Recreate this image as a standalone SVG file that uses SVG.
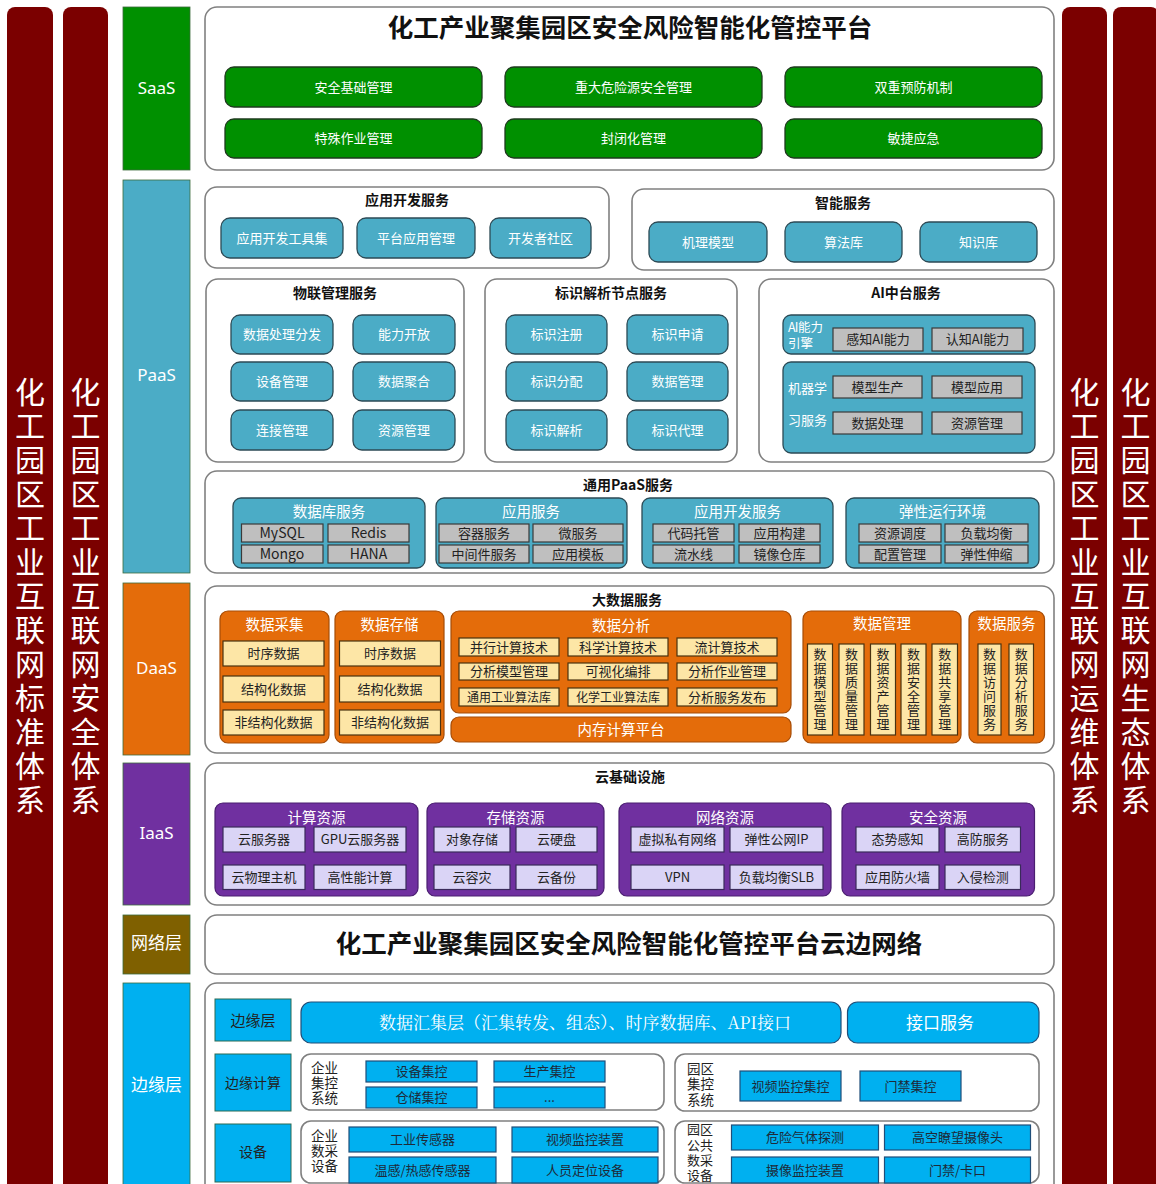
<svg xmlns="http://www.w3.org/2000/svg" width="1156" height="1184" viewBox="0 0 1156 1184">
<style>
text{font-family:"Noto Sans CJK SC","Noto Sans",sans-serif;text-anchor:middle;dominant-baseline:central;transform:translateY(-1px)}
.l{text-anchor:start}
.bar{fill:#7B0000}
.bt{font-size:30px;fill:#fff}
.lay{stroke:#3d6b3d;stroke-width:0.8}
.lt{font-family:"Noto Sans","Noto Sans CJK SC",sans-serif;font-size:17px;fill:#fff}
.panel{fill:#fff;stroke:#808080;stroke-width:1.6}
.big{font-size:25.5px;font-weight:700;fill:#111;transform:translateY(-2.5px)}
.st{font-size:14px;font-weight:700;fill:#111}
.gb{fill:#009000;stroke:#1e3a1e;stroke-width:1.3}
.tb{fill:#4BACC6;stroke:#2c4a55;stroke-width:1.3}
.gr{fill:#BFBFBF;stroke:#3a3a3a;stroke-width:1.2}
.ob{fill:#E46C0A;stroke:#a64c06;stroke-width:1.2}
.yc{fill:#FDE6A6;stroke:#4a3210;stroke-width:1.2}
.pb{fill:#7030A0;stroke:#4a1e70;stroke-width:1.2}
.pc{fill:#DAD4F6;stroke:#3a2a5a;stroke-width:1.2}
.bb{fill:#00B0F0;stroke:#1f4e79;stroke-width:1.2}
.bl{fill:#00B0F0;stroke:#2a6a55;stroke-width:1}
.w13{font-size:13px;fill:#fff}
.w14{font-size:14.5px;fill:#fff}
.d13{font-size:13px;fill:#222}
.d14{font-size:14px;fill:#222}
.e13{font-size:13px;fill:#1e2a38}
</style>

<g id="side-bars">
  <g id="bar-standard">
    <rect class="bar" x="7" y="7" width="46" height="1195" rx="8"/>
    <text class="bt" x="30 30 30 30 30 30 30 30 30 30 30 30 30" y="391 425 459 493 527 561 595 629 663 697 731 765 799">化工园区工业互联网标准体系</text>
  </g>
  <g id="bar-security">
    <rect class="bar" x="63" y="7" width="45" height="1195" rx="8"/>
    <text class="bt" x="85.5 85.5 85.5 85.5 85.5 85.5 85.5 85.5 85.5 85.5 85.5 85.5 85.5" y="391 425 459 493 527 561 595 629 663 697 731 765 799">化工园区工业互联网安全体系</text>
  </g>
  <g id="bar-ops">
    <rect class="bar" x="1062" y="7" width="45" height="1195" rx="8"/>
    <text class="bt" x="1084.5 1084.5 1084.5 1084.5 1084.5 1084.5 1084.5 1084.5 1084.5 1084.5 1084.5 1084.5 1084.5" y="391 425 459 493 527 561 595 629 663 697 731 765 799">化工园区工业互联网运维体系</text>
  </g>
  <g id="bar-eco">
    <rect class="bar" x="1113" y="7" width="46" height="1195" rx="8"/>
    <text class="bt" x="1135.5 1135.5 1135.5 1135.5 1135.5 1135.5 1135.5 1135.5 1135.5 1135.5 1135.5 1135.5 1135.5" y="391 425 459 493 527 561 595 629 663 697 731 765 799">化工园区工业互联网生态体系</text>
  </g>
</g>

<g id="layer-labels">
  <g id="layer-saas"><rect class="lay" x="123" y="7" width="67" height="163" fill="#009000"/><text class="lt" x="156.5" y="88">SaaS</text></g>
  <g id="layer-paas"><rect class="lay" x="123" y="180" width="67" height="393" fill="#4BACC6"/><text class="lt" x="156.5" y="375">PaaS</text></g>
  <g id="layer-daas"><rect class="lay" x="123" y="583" width="67" height="172" fill="#E46C0A"/><text class="lt" x="156.5" y="668">DaaS</text></g>
  <g id="layer-iaas"><rect class="lay" x="123" y="763" width="67" height="142" fill="#7030A0"/><text class="lt" x="156.5" y="833">IaaS</text></g>
  <g id="layer-net"><rect class="lay" x="123" y="915" width="67" height="59" fill="#7F6000"/><text class="lt" x="156.5" y="943" fill="#f3ead6">网络层</text></g>
  <g id="layer-edge"><rect class="lay" x="123" y="983" width="67" height="215" fill="#00B0F0"/><text class="lt" x="156.5" y="1085">边缘层</text></g>
</g>

<g id="saas">
  <rect class="panel" x="205" y="7" width="849" height="163" rx="12"/>
  <text class="big" x="630" y="28">化工产业聚集园区安全风险智能化管控平台</text>
  <g id="saas-1"><rect class="gb" x="225" y="67" width="257" height="40" rx="9"/><text class="w13" x="353.5" y="87">安全基础管理</text></g>
  <g id="saas-2"><rect class="gb" x="505" y="67" width="257" height="40" rx="9"/><text class="w13" x="633.5" y="87">重大危险源安全管理</text></g>
  <g id="saas-3"><rect class="gb" x="785" y="67" width="257" height="40" rx="9"/><text class="w13" x="913.5" y="87">双重预防机制</text></g>
  <g id="saas-4"><rect class="gb" x="225" y="119" width="257" height="39" rx="9"/><text class="w13" x="353.5" y="138.5">特殊作业管理</text></g>
  <g id="saas-5"><rect class="gb" x="505" y="119" width="257" height="39" rx="9"/><text class="w13" x="633.5" y="138.5">封闭化管理</text></g>
  <g id="saas-6"><rect class="gb" x="785" y="119" width="257" height="39" rx="9"/><text class="w13" x="913.5" y="138.5">敏捷应急</text></g>
</g>

<g id="paas-appdev">
  <rect class="panel" x="205" y="187" width="404" height="81" rx="12"/>
  <text class="st" x="407" y="200">应用开发服务</text>
  <rect class="tb" x="221" y="218" width="122" height="40" rx="9"/><text class="w13" x="282" y="238">应用开发工具集</text>
  <rect class="tb" x="357" y="218" width="118" height="40" rx="9"/><text class="w13" x="416" y="238">平台应用管理</text>
  <rect class="tb" x="490" y="218" width="101" height="40" rx="9"/><text class="w13" x="540.5" y="238">开发者社区</text>
</g>

<g id="paas-intel">
  <rect class="panel" x="632" y="189" width="422" height="81" rx="12"/>
  <text class="st" x="843" y="203">智能服务</text>
  <rect class="tb" x="649" y="222" width="118" height="40" rx="9"/><text class="w13" x="708" y="242">机理模型</text>
  <rect class="tb" x="785" y="222" width="117" height="40" rx="9"/><text class="w13" x="843.5" y="242">算法库</text>
  <rect class="tb" x="920" y="222" width="117" height="40" rx="9"/><text class="w13" x="978.5" y="242">知识库</text>
</g>

<g id="paas-iot">
  <rect class="panel" x="206" y="279" width="258" height="183" rx="12"/>
  <text class="st" x="335" y="293">物联管理服务</text>
  <rect class="tb" x="231" y="315" width="102" height="39" rx="9"/><text class="w13" x="282" y="334.5">数据处理分发</text>
  <rect class="tb" x="353" y="315" width="102" height="39" rx="9"/><text class="w13" x="404" y="334.5">能力开放</text>
  <rect class="tb" x="231" y="362" width="102" height="39" rx="9"/><text class="w13" x="282" y="381.5">设备管理</text>
  <rect class="tb" x="353" y="362" width="102" height="39" rx="9"/><text class="w13" x="404" y="381.5">数据聚合</text>
  <rect class="tb" x="231" y="410" width="102" height="40" rx="9"/><text class="w13" x="282" y="430">连接管理</text>
  <rect class="tb" x="353" y="410" width="102" height="40" rx="9"/><text class="w13" x="404" y="430">资源管理</text>
</g>

<g id="paas-id">
  <rect class="panel" x="485" y="279" width="252" height="183" rx="12"/>
  <text class="st" x="611" y="293">标识解析节点服务</text>
  <rect class="tb" x="506" y="315" width="101" height="39" rx="9"/><text class="w13" x="556.5" y="334.5">标识注册</text>
  <rect class="tb" x="627" y="315" width="101" height="39" rx="9"/><text class="w13" x="677.5" y="334.5">标识申请</text>
  <rect class="tb" x="506" y="362" width="101" height="39" rx="9"/><text class="w13" x="556.5" y="381.5">标识分配</text>
  <rect class="tb" x="627" y="362" width="101" height="39" rx="9"/><text class="w13" x="677.5" y="381.5">数据管理</text>
  <rect class="tb" x="506" y="410" width="101" height="40" rx="9"/><text class="w13" x="556.5" y="430">标识解析</text>
  <rect class="tb" x="627" y="410" width="101" height="40" rx="9"/><text class="w13" x="677.5" y="430">标识代理</text>
</g>

<g id="paas-ai">
  <rect class="panel" x="759" y="279" width="295" height="183" rx="12"/>
  <text class="st" x="906" y="293">AI中台服务</text>
  <rect class="tb" x="783" y="315" width="252" height="39" rx="8"/>
  <text class="w13 l" style="font-size:12.5px" x="788 794.8 798 810.5 788 800.5" y="327 327 327 327 343 343">AI能力引擎</text>
  <rect class="gr" x="833" y="328" width="90" height="23"/><text class="d13" x="878" y="339.5">感知AI能力</text>
  <rect class="gr" x="932" y="328" width="91" height="23"/><text class="d13" x="977.5" y="339.5">认知AI能力</text>
  <rect class="tb" x="783" y="362" width="252" height="91" rx="8"/>
  <text class="w13 l" x="788 801 814 788 801 814" y="388 388 388 420 420 420">机器学习服务</text>
  <rect class="gr" x="833" y="376" width="89" height="22"/><text class="d13" x="877.5" y="387">模型生产</text>
  <rect class="gr" x="932" y="376" width="90" height="22"/><text class="d13" x="977" y="387">模型应用</text>
  <rect class="gr" x="833" y="412" width="89" height="22"/><text class="d13" x="877.5" y="423">数据处理</text>
  <rect class="gr" x="932" y="412" width="90" height="22"/><text class="d13" x="977" y="423">资源管理</text>
</g>

<g id="paas-common">
  <rect class="panel" x="205" y="471" width="849" height="102" rx="12"/>
  <text class="st" x="628" y="485">通用PaaS服务</text>
  <g id="pc-db">
    <rect class="tb" x="233" y="498" width="192" height="70" rx="8"/>
    <text class="w14" x="329" y="511">数据库服务</text>
    <rect class="gr" x="241.5" y="524" width="81.5" height="18"/><text class="d14" x="282" y="533">MySQL</text>
    <rect class="gr" x="328" y="524" width="81" height="18"/><text class="d14" x="368.5" y="533">Redis</text>
    <rect class="gr" x="241.5" y="545" width="81.5" height="18"/><text class="d14" x="282" y="554">Mongo</text>
    <rect class="gr" x="328" y="545" width="81" height="18"/><text class="d14" x="368.5" y="554">HANA</text>
  </g>
  <g id="pc-app">
    <rect class="tb" x="436" y="498" width="191" height="70" rx="8"/>
    <text class="w14" x="531" y="511">应用服务</text>
    <rect class="gr" x="439" y="524" width="90" height="18"/><text class="d13" x="484" y="533">容器服务</text>
    <rect class="gr" x="533" y="524" width="90" height="18"/><text class="d13" x="578" y="533">微服务</text>
    <rect class="gr" x="439" y="545" width="90" height="18"/><text class="d13" x="484" y="554">中间件服务</text>
    <rect class="gr" x="533" y="545" width="90" height="18"/><text class="d13" x="578" y="554">应用模板</text>
  </g>
  <g id="pc-dev">
    <rect class="tb" x="642" y="498" width="191" height="70" rx="8"/>
    <text class="w14" x="737.5" y="511">应用开发服务</text>
    <rect class="gr" x="653" y="524" width="81" height="18"/><text class="d13" x="693.5" y="533">代码托管</text>
    <rect class="gr" x="739" y="524" width="81" height="18"/><text class="d13" x="779.5" y="533">应用构建</text>
    <rect class="gr" x="653" y="545" width="81" height="18"/><text class="d13" x="693.5" y="554">流水线</text>
    <rect class="gr" x="739" y="545" width="81" height="18"/><text class="d13" x="779.5" y="554">镜像仓库</text>
  </g>
  <g id="pc-elastic">
    <rect class="tb" x="846" y="498" width="193" height="70" rx="8"/>
    <text class="w14" x="942.5" y="511">弹性运行环境</text>
    <rect class="gr" x="859" y="524" width="82" height="18"/><text class="d13" x="900" y="533">资源调度</text>
    <rect class="gr" x="945" y="524" width="83" height="18"/><text class="d13" x="986.5" y="533">负载均衡</text>
    <rect class="gr" x="859" y="545" width="82" height="18"/><text class="d13" x="900" y="554">配置管理</text>
    <rect class="gr" x="945" y="545" width="83" height="18"/><text class="d13" x="986.5" y="554">弹性伸缩</text>
  </g>
</g>

<g id="daas">
  <rect class="panel" x="205" y="586" width="849" height="167" rx="12"/>
  <text class="st" x="627" y="600">大数据服务</text>
  <g id="da-collect">
    <rect class="ob" x="220" y="611" width="109" height="132" rx="8"/>
    <text class="w14" x="274.5" y="624">数据采集</text>
    <rect class="yc" x="223" y="641" width="101" height="25"/><text class="d13" x="273.5" y="653.5">时序数据</text>
    <rect class="yc" x="223" y="676" width="101" height="26"/><text class="d13" x="273.5" y="689">结构化数据</text>
    <rect class="yc" x="223" y="710" width="101" height="25"/><text class="d13" x="273.5" y="722.5">非结构化数据</text>
  </g>
  <g id="da-store">
    <rect class="ob" x="335" y="611" width="109" height="132" rx="8"/>
    <text class="w14" x="389.5" y="624">数据存储</text>
    <rect class="yc" x="339.5" y="641" width="101" height="25"/><text class="d13" x="390" y="653.5">时序数据</text>
    <rect class="yc" x="339.5" y="676" width="101" height="26"/><text class="d13" x="390" y="689">结构化数据</text>
    <rect class="yc" x="339.5" y="710" width="101" height="25"/><text class="d13" x="390" y="722.5">非结构化数据</text>
  </g>
  <g id="da-analysis">
    <rect class="ob" x="451" y="611" width="340" height="102" rx="8"/>
    <text class="w14" x="621" y="625">数据分析</text>
    <rect class="yc" x="459" y="638" width="100" height="18"/><text class="d13" x="509" y="647">并行计算技术</text>
    <rect class="yc" x="568" y="638" width="100" height="18"/><text class="d13" x="618" y="647">科学计算技术</text>
    <rect class="yc" x="677" y="638" width="100" height="18"/><text class="d13" x="727" y="647">流计算技术</text>
    <rect class="yc" x="459" y="663" width="100" height="17"/><text class="d13" x="509" y="671.5">分析模型管理</text>
    <rect class="yc" x="568" y="663" width="100" height="17"/><text class="d13" x="618" y="671.5">可视化编排</text>
    <rect class="yc" x="677" y="663" width="100" height="17"/><text class="d13" x="727" y="671.5">分析作业管理</text>
    <rect class="yc" x="459" y="688" width="100" height="18"/><text class="d13" x="509" y="697" style="font-size:12px">通用工业算法库</text>
    <rect class="yc" x="568" y="688" width="100" height="18"/><text class="d13" x="618" y="697" style="font-size:12px">化学工业算法库</text>
    <rect class="yc" x="677" y="688" width="100" height="18"/><text class="d13" x="727" y="697">分析服务发布</text>
  </g>
  <g id="da-memory">
    <rect class="ob" x="451" y="717" width="340" height="25" rx="8"/>
    <text class="w14" x="621" y="729.5">内存计算平台</text>
  </g>
  <g id="da-manage">
    <rect class="ob" x="803" y="611" width="158" height="132" rx="8"/>
    <text class="w14" x="882" y="623">数据管理</text>
    <rect class="yc" x="807.5" y="644" width="25" height="91"/>
    <text class="d13" x="820 820 820 820 820 820" y="654 668 682 696 710 724">数据模型管理</text>
    <rect class="yc" x="839" y="644" width="25" height="91"/>
    <text class="d13" x="851.5 851.5 851.5 851.5 851.5 851.5" y="654 668 682 696 710 724">数据质量管理</text>
    <rect class="yc" x="870.5" y="644" width="25" height="91"/>
    <text class="d13" x="883 883 883 883 883 883" y="654 668 682 696 710 724">数据资产管理</text>
    <rect class="yc" x="901" y="644" width="25" height="91"/>
    <text class="d13" x="913.5 913.5 913.5 913.5 913.5 913.5" y="654 668 682 696 710 724">数据安全管理</text>
    <rect class="yc" x="932" y="644" width="25.5" height="91"/>
    <text class="d13" x="944.7 944.7 944.7 944.7 944.7 944.7" y="654 668 682 696 710 724">数据共享管理</text>
  </g>
  <g id="da-service">
    <rect class="ob" x="969" y="611" width="75.5" height="132" rx="8"/>
    <text class="w14" x="1006.5" y="623">数据服务</text>
    <rect class="yc" x="978" y="644" width="23" height="91"/>
    <text class="d13" x="989.5 989.5 989.5 989.5 989.5 989.5" y="654 668 682 696 710 724">数据访问服务</text>
    <rect class="yc" x="1009" y="644" width="24.5" height="91"/>
    <text class="d13" x="1021.2 1021.2 1021.2 1021.2 1021.2 1021.2" y="654 668 682 696 710 724">数据分析服务</text>
  </g>
</g>

<g id="iaas">
  <rect class="panel" x="205" y="763" width="849" height="142" rx="12"/>
  <text class="st" x="630" y="777">云基础设施</text>
  <g id="ia-compute">
    <rect class="pb" x="215" y="803" width="203" height="93" rx="8"/>
    <text class="w14" x="316.5" y="817">计算资源</text>
    <rect class="pc" x="223" y="827" width="82" height="25"/><text class="d13" x="264" y="839.5">云服务器</text>
    <rect class="pc" x="314" y="827" width="92" height="25"/><text class="d13" x="360" y="839.5">GPU云服务器</text>
    <rect class="pc" x="223" y="865" width="82" height="24.5"/><text class="d13" x="264" y="877">云物理主机</text>
    <rect class="pc" x="314" y="865" width="92" height="24.5"/><text class="d13" x="360" y="877">高性能计算</text>
  </g>
  <g id="ia-storage">
    <rect class="pb" x="427" y="803" width="177" height="93" rx="8"/>
    <text class="w14" x="515.5" y="817">存储资源</text>
    <rect class="pc" x="434" y="827" width="76" height="25"/><text class="d13" x="472" y="839.5">对象存储</text>
    <rect class="pc" x="516" y="827" width="81" height="25"/><text class="d13" x="556.5" y="839.5">云硬盘</text>
    <rect class="pc" x="434" y="865" width="76" height="24.5"/><text class="d13" x="472" y="877">云容灾</text>
    <rect class="pc" x="516" y="865" width="81" height="24.5"/><text class="d13" x="556.5" y="877">云备份</text>
  </g>
  <g id="ia-network">
    <rect class="pb" x="619" y="803" width="212" height="93" rx="8"/>
    <text class="w14" x="725" y="817">网络资源</text>
    <rect class="pc" x="631" y="827" width="93" height="25"/><text class="d13" x="677.5" y="839.5">虚拟私有网络</text>
    <rect class="pc" x="730" y="827" width="93" height="25"/><text class="d13" x="776.5" y="839.5">弹性公网IP</text>
    <rect class="pc" x="631" y="865" width="93" height="24.5"/><text class="d13" x="677.5" y="877">VPN</text>
    <rect class="pc" x="730" y="865" width="93" height="24.5"/><text class="d13" x="776.5" y="877">负载均衡SLB</text>
  </g>
  <g id="ia-security">
    <rect class="pb" x="842" y="803" width="192.5" height="93" rx="8"/>
    <text class="w14" x="938" y="817">安全资源</text>
    <rect class="pc" x="856" y="827" width="83" height="25"/><text class="d13" x="897.5" y="839.5">态势感知</text>
    <rect class="pc" x="945" y="827" width="75.5" height="25"/><text class="d13" x="982.7" y="839.5">高防服务</text>
    <rect class="pc" x="856" y="865" width="83" height="24.5"/><text class="d13" x="897.5" y="877">应用防火墙</text>
    <rect class="pc" x="945" y="865" width="75.5" height="24.5"/><text class="d13" x="982.7" y="877">入侵检测</text>
  </g>
</g>

<g id="network">
  <rect class="panel" x="205" y="915" width="849" height="59" rx="12"/>
  <text class="big" x="629" y="944">化工产业聚集园区安全风险智能化管控平台云边网络</text>
</g>

<g id="edge">
  <rect class="panel" x="205" y="983" width="849" height="215" rx="12"/>
  <g id="edge-label-1"><rect class="bl" x="215" y="999" width="76" height="42"/><text class="d14" x="253" y="1020" style="font-size:15px">边缘层</text></g>
  <g id="edge-label-2"><rect class="bl" x="215" y="1054" width="76" height="57"/><text class="d14" x="253" y="1082.5">边缘计算</text></g>
  <g id="edge-label-3"><rect class="bl" x="215" y="1124" width="76" height="58"/><text class="d14" x="253" y="1152">设备</text></g>
  <g id="edge-collect"><rect class="bb" x="301" y="1002" width="540" height="41" rx="10"/><text x="585" y="1022" style="font-size:17px;fill:#fff;font-family:'Noto Serif CJK SC','Noto Sans CJK SC',serif">数据汇集层（汇集转发、组态）、时序数据库、API接口</text></g>
  <g id="edge-api"><rect class="bb" x="847.5" y="1002" width="191.5" height="41" rx="10"/><text x="940" y="1022" style="font-size:17px;fill:#fff">接口服务</text></g>
  <g id="edge-ent-ctrl">
    <rect class="panel" x="301" y="1054" width="363" height="56" rx="10"/>
    <text class="d14 l" style="font-size:13.5px" x="311 324.5 311 324.5 311 324.5" y="1068 1068 1083 1083 1098 1098">企业集控系统</text>
    <rect class="bb" x="366" y="1061" width="111" height="21"/><text class="e13" x="421.5" y="1071.5">设备集控</text>
    <rect class="bb" x="494" y="1061" width="111" height="21"/><text class="e13" x="549.5" y="1071.5">生产集控</text>
    <rect class="bb" x="366" y="1087" width="111" height="21"/><text class="e13" x="421.5" y="1097.5">仓储集控</text>
    <rect class="bb" x="494" y="1087" width="111" height="21"/><text class="e13" x="549.5" y="1097.5">...</text>
  </g>
  <g id="edge-park-ctrl">
    <rect class="panel" x="675" y="1054" width="364" height="57" rx="10"/>
    <text class="d14 l" style="font-size:13.5px" x="687 700.5 687 700.5 687 700.5" y="1069 1069 1084 1084 1100 1100">园区集控系统</text>
    <rect class="bb" x="740" y="1071" width="101" height="30"/><text class="e13" x="790.5" y="1086">视频监控集控</text>
    <rect class="bb" x="860" y="1071" width="101" height="30"/><text class="e13" x="910.5" y="1086">门禁集控</text>
  </g>
  <g id="edge-ent-dev">
    <rect class="panel" x="301" y="1121" width="363" height="62" rx="10"/>
    <text class="d14 l" style="font-size:13.5px" x="311 324.5 311 324.5 311 324.5" y="1136 1136 1151 1151 1166 1166">企业数采设备</text>
    <rect class="bb" x="349" y="1127" width="147" height="25"/><text class="e13" x="422.5" y="1139.5">工业传感器</text>
    <rect class="bb" x="512" y="1127" width="146" height="25"/><text class="e13" x="585" y="1139.5">视频监控装置</text>
    <rect class="bb" x="349" y="1157" width="147" height="26"/><text class="e13" x="422.5" y="1170">温感/热感传感器</text>
    <rect class="bb" x="512" y="1157" width="146" height="26"/><text class="e13" x="585" y="1170">人员定位设备</text>
  </g>
  <g id="edge-park-dev">
    <rect class="panel" x="675" y="1121" width="364" height="62" rx="10"/>
    <text class="d13 l" x="687 700 687 700 687 700 687 700" y="1129 1129 1145 1145 1160 1160 1175 1175">园区公共数采设备</text>
    <rect class="bb" x="731.5" y="1125" width="147" height="25"/><text class="e13" x="805" y="1137.5">危险气体探测</text>
    <rect class="bb" x="884.5" y="1125" width="146" height="25"/><text class="e13" x="957.5" y="1137.5">高空瞭望摄像头</text>
    <rect class="bb" x="731.5" y="1157" width="147" height="26"/><text class="e13" x="805" y="1170">摄像监控装置</text>
    <rect class="bb" x="884.5" y="1157" width="146" height="26"/><text class="e13" x="957.5" y="1170">门禁/卡口</text>
  </g>
</g>

<g id="connectors"/>
</svg>
